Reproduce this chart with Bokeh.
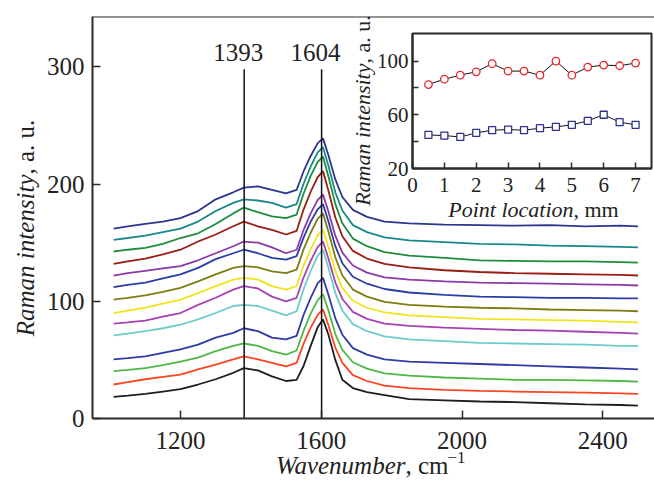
from bokeh.plotting import figure
from bokeh.models import Label, Span, FixedTicker, GridBox
from bokeh.embed import file_html
from bokeh.resources import INLINE

# ---------------- data ----------------
wavenumber = [1010, 1050, 1100, 1150, 1200, 1250, 1300, 1350, 1380, 1420, 1460, 1500,
              1530, 1550, 1570, 1590, 1605, 1620, 1640, 1660, 1690, 1730, 1780, 1850,
              1950, 2050, 2150, 2250, 2350, 2450, 2500]

s01 = [162, 164, 166, 168, 171, 177, 187, 193, 197, 198, 195, 192, 195, 211, 224, 235, 239, 225, 204, 189, 178, 172, 168, 166.5, 165.5, 165, 164.5, 165, 164, 164.5, 164]
s02 = [152.5, 154, 156, 159, 162, 168, 177, 184, 187, 186, 184, 180, 183, 200.5, 215, 227, 231.5, 216, 193, 177.5, 165, 159, 154.5, 152, 150.5, 149, 148.5, 147.5, 147, 146.5, 146]
s03 = [142.5, 144, 145.5, 149, 154, 158, 166, 175, 180, 176, 172.5, 171, 174, 192, 207, 219, 223.5, 207, 183, 166.5, 153.5, 147, 142, 139, 137, 135, 134.5, 134, 134, 133.5, 133]
s04 = [132, 134, 136.5, 140, 144, 151, 157, 164, 168, 164, 161, 157, 160, 178.5, 193.5, 206, 211, 195, 171.5, 155.5, 143, 136.5, 132, 129, 126.5, 125, 124, 123.5, 123, 122.5, 122]
s05 = [122, 124, 126, 128, 130, 135, 141, 147, 151, 150, 146, 141, 144, 161, 175, 186.5, 191, 177, 156, 141.5, 130.5, 124.5, 120.5, 118.5, 117, 116, 115.5, 115, 114.5, 114, 113.5]
s06 = [112, 114, 116, 119.5, 123, 128.5, 136, 141, 144, 141, 137, 135.5, 138.5, 154.5, 168, 178.5, 183, 168.5, 147, 132.5, 121, 115, 110.5, 107.5, 105.5, 104, 103.5, 103, 103, 102.5, 102.5]
s07 = [101.5, 103, 105, 108, 111.5, 117, 123, 128.5, 130, 129, 125.5, 124, 127, 144.5, 158.5, 170.5, 175, 160, 137.5, 122, 110, 104, 99.5, 97, 95.5, 94.5, 94, 93, 92.5, 92, 91.5]
s08 = [90, 92, 94.5, 98, 101.5, 107, 113, 118.5, 120, 118.5, 113, 110, 113, 130.5, 144.5, 156.5, 161, 147, 126, 111.5, 100.5, 94.5, 90.5, 88, 86.5, 85, 84.5, 84, 83.5, 82.5, 82]
s09 = [81, 82, 83.5, 87, 90, 97, 103, 110, 113, 111, 104, 100, 103, 120.5, 134.5, 146.5, 151, 137, 116, 102, 91, 85, 81, 79, 77.5, 76.5, 75.5, 75, 74, 73, 72.5]
s10 = [71, 72.5, 74.5, 77, 80, 84.5, 90, 96, 97, 96, 92, 88, 91.5, 110.5, 126, 139, 144, 129, 107, 92, 80.5, 74.5, 70, 67.5, 66, 64.5, 64, 63.5, 63, 62, 62]
s11 = [50.5, 51.5, 53, 56, 59, 63, 69, 73, 77, 74.5, 69, 67.5, 70.5, 88.5, 103, 115.5, 120, 106, 85.5, 71.5, 60, 54.5, 50.5, 48.5, 47.5, 46.5, 45.5, 44.5, 43.5, 42.5, 42]
s12 = [40.5, 41.5, 43, 45.5, 48.5, 52, 57.5, 62, 64, 62, 57.5, 54.5, 58, 75, 89.5, 101, 106, 92.5, 72, 58.5, 48, 42.5, 38.5, 36.5, 35, 34, 33, 33, 32.5, 32, 31.5]
s13 = [29, 31, 33.5, 35.5, 37.5, 42, 46, 50.5, 53, 50.5, 47.5, 44.5, 47.5, 64, 77.5, 88.5, 93, 80, 60.5, 47.5, 37, 32, 28, 26, 24.5, 23.5, 23, 22.5, 22, 21.5, 21]
s14 = [18.5, 19.5, 21, 23, 25, 29, 33.5, 39, 43, 41, 36, 32, 33, 45, 62, 78, 84.5, 72, 50, 33, 26, 22.5, 20, 16.5, 15.5, 14.5, 14, 13, 12, 11.5, 11]

spectra = [s01, s02, s03, s04, s05, s06, s07, s08, s09, s10, s11, s12, s13, s14]
colors = ["#2c3590", "#18898a", "#1d8c3e", "#9a1c12", "#8b3aa8", "#2a3ea6", "#7d7e10",
          "#f0e41e", "#a542b2", "#6ccbcb", "#2f3ba3", "#4fb845", "#fa4520", "#1e1e1e"]

band_pos = [1381, 1601]
band_labels = ["1393", "1604"]

x_ticks = [1200, 1600, 2000, 2400]
y_ticks = [0, 100, 200, 300]

point_location = [0.5, 1.0, 1.5, 2.0, 2.5, 3.0, 3.5, 4.0, 4.5, 5.0, 5.5, 6.0, 6.5, 7.0]
intensity_red = [82.5, 86.5, 89.5, 92, 98, 92.5, 92.5, 89.5, 100, 89.5, 95.5, 97, 96.5, 98.5]
intensity_blue = [45, 44.5, 43.5, 46.5, 48.5, 49, 48.5, 50, 51, 52.5, 55.5, 60, 54.5, 52.5]
inset_x_ticks = [0, 1, 2, 3, 4, 5, 6, 7]
inset_y_ticks = [20, 60, 100]
inset_y_minor = [40, 80]

FONT = "Liberation Serif"
TXT = "#222222"
AX = "#2a2a2a"
W, H = 654, 481

# ---------------- main figure ----------------
p = figure(width=W, height=H, x_range=(950, 2547), y_range=(0, 343),
           output_backend="svg", toolbar_location=None, frame_align=False,
           min_border_left=92, min_border_right=0, min_border_top=16, min_border_bottom=63)
p.title = None
p.xgrid.visible = False
p.ygrid.visible = False
p.outline_line_color = None

for ax in (p.xaxis[0], p.yaxis[0]):
    ax.axis_line_width = 2
    ax.axis_line_color = AX
    ax.major_tick_in = 8
    ax.major_tick_out = 0
    ax.major_tick_line_width = 1.5
    ax.major_tick_line_color = AX
    ax.minor_tick_line_color = None
    ax.major_label_text_font = FONT
    ax.major_label_text_font_size = "25px"
    ax.major_label_text_color = TXT
p.xaxis.ticker = FixedTicker(ticks=x_ticks)
p.yaxis.ticker = FixedTicker(ticks=y_ticks)
p.xaxis.major_label_standoff = 13
p.yaxis.major_label_standoff = 8

p.add_layout(Span(location=343, dimension="width", line_color=AX, line_width=2))

for vals, c in zip(spectra, colors):
    p.line(wavenumber, vals, line_color=c, line_width=1.8)

p.segment(x0=band_pos, y0=[0] * len(band_pos), x1=band_pos, y1=[298] * len(band_pos),
          line_color="#111111", line_width=1.5)
for bx, bl in zip(band_pos, band_labels):
    p.add_layout(Label(x=bx, y=312, x_offset=-6, text=bl, text_align="center",
                       text_baseline="middle", text_font=FONT, text_font_size="25px",
                       text_color=TXT))

# ---------------- inset ----------------
q = figure(width=304, height=230, x_range=(0, 7.5), y_range=(20, 120.5),
           output_backend="svg", toolbar_location=None, frame_align=False,
           min_border_left=62, min_border_right=3, min_border_top=33, min_border_bottom=62,
           background_fill_alpha=0, border_fill_alpha=0)
q.title = None
q.xgrid.visible = False
q.ygrid.visible = False
q.outline_line_color = AX
q.outline_line_width = 2
for ax in (q.xaxis[0], q.yaxis[0]):
    ax.axis_line_width = 2
    ax.axis_line_color = AX
    ax.major_tick_in = 6
    ax.major_tick_out = 0
    ax.major_tick_line_width = 1.5
    ax.major_tick_line_color = AX
    ax.major_label_text_font = FONT
    ax.major_label_text_font_size = "21px"
    ax.major_label_text_color = TXT
q.xaxis.major_label_standoff = 9
q.yaxis.major_label_standoff = 4
q.xaxis.ticker = FixedTicker(ticks=inset_x_ticks)
q.xaxis.minor_tick_line_color = None
q.yaxis.ticker = FixedTicker(ticks=inset_y_ticks, minor_ticks=inset_y_minor)
q.yaxis.minor_tick_in = 6
q.yaxis.minor_tick_out = 0
q.yaxis.minor_tick_line_width = 1.5
q.yaxis.minor_tick_line_color = AX

q.line(point_location, intensity_red, line_color="#111111", line_width=1)
q.scatter(point_location, intensity_red, marker="circle", size=7.5,
          fill_color="white", line_color="#e8262b", line_width=1.3)
q.line(point_location, intensity_blue, line_color="#111111", line_width=1)
q.scatter(point_location, intensity_blue, marker="square", size=7,
          fill_color="white", line_color="#2e3192", line_width=1.3)

# ---------------- text overlay (page pixel coordinates) ----------------
o = figure(width=W, height=H, x_range=(0, W), y_range=(H, 0),
           x_axis_type=None, y_axis_type=None, output_backend="svg",
           toolbar_location=None, min_border=0, frame_align=False,
           background_fill_alpha=0, border_fill_alpha=0)
o.title = None
o.outline_line_color = None


def txt(x, y, text, size, align="left", italic=False, angle=0):
    o.add_layout(Label(x=x, y=y, text=text, text_align=align, text_baseline="middle",
                       angle=angle, angle_units="deg", text_font=FONT,
                       text_font_style="italic" if italic else "normal",
                       text_font_size=size, text_color=TXT))


# main axis titles
txt(405, 465, "Wavenumber", "25px", align="right", italic=True)
txt(405, 465, ", cm", "25px")
txt(447, 457, "\u22121", "17px")
txt(25, 174, "Raman intensity", "25px", align="right", italic=True, angle=90)
txt(25, 174, ", a. u.", "25px", angle=90)
# inset axis titles
txt(573, 209, "Point location", "22px", align="right", italic=True)
txt(573, 209, ", mm", "22px")
txt(362, 63, "Raman intensity", "22px", align="right", italic=True, angle=90)
txt(362, 63, ", a. u.", "22px", angle=90)

grid = GridBox(children=[(p, 0, 0, 2, 2), (q, 0, 1), (o, 0, 0, 2, 2)],
               cols=["350px", "304px"], rows=["230px", "251px"])

open("out.html", "w").write(file_html(grid, INLINE))
